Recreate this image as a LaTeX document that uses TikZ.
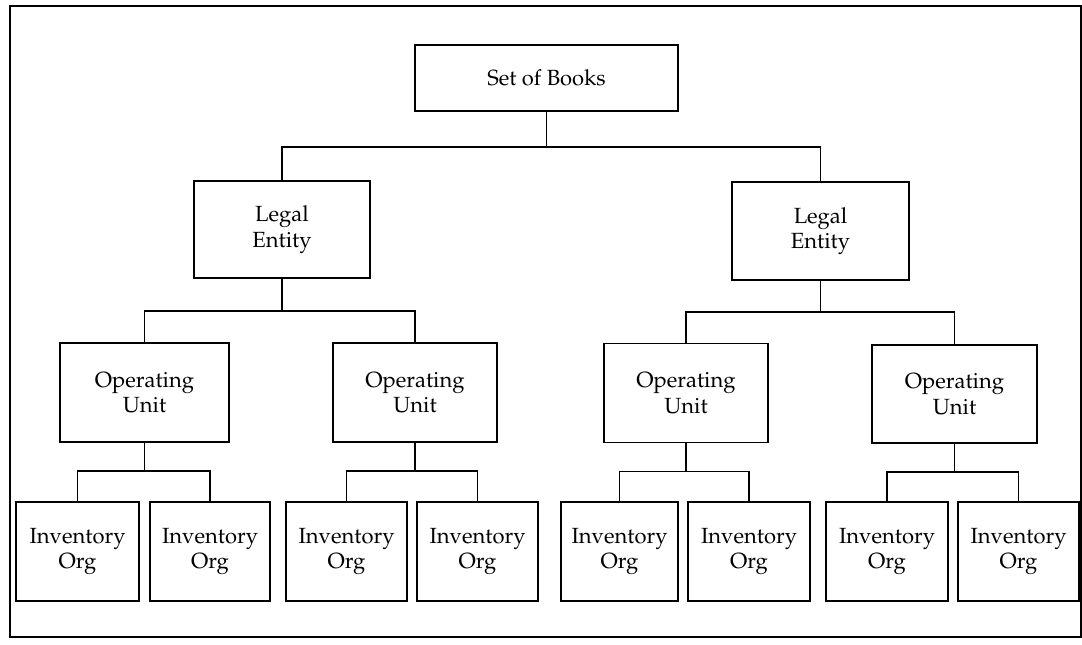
\documentclass[tikz,border=0pt]{standalone}
\usepackage[T1]{fontenc}
\usepackage{mathpazo}
\usepackage{tikz}
\usetikzlibrary{calc}
\def\pxu{0.02cm}
\tikzset{
  unit/.style={draw, line width=1.1pt, align=center, inner sep=0pt,
    font=\fontsize{12.5}{14.5}\selectfont},
  box/.style 2 args={unit, minimum width=#1*\pxu, minimum height=#2*\pxu},
  link/.style={line width=1.1pt},
  frame/.style={line width=1.4pt}
}

\begin{document}
\begin{tikzpicture}[x=0.02cm, y=-0.02cm]
\useasboundingbox (0,0) rectangle (1082,645);
\draw[frame] (10,6) rectangle (1081,637);

% top level
\node[box={263}{66}] (sob) at (546.5,78) {Set of Books};

% legal entities
\node[box={176}{97}] (le1) at (282,229.5) {Legal\\Entity};
\node[box={177}{98}] (le2) at (820.5,231) {Legal\\Entity};

% operating units
\node[box={169}{99}] (ou1) at (144.5,392.5) {Operating\\Unit};
\node[box={164}{99}] (ou2) at (415,392.5) {Operating\\Unit};
\node[box={164}{99}] (ou3) at (686,393) {Operating\\Unit};
\node[box={165}{98}] (ou4) at (954.5,394) {Operating\\Unit};

% inventory orgs
\foreach \i/\x/\w in {1/77.5/123, 2/210/120, 3/346.5/121, 4/477.5/121,
                      5/619.5/117, 6/749/122, 7/887/122, 8/1018.5/121}
  \node[box={\w}{99}] (io\i) at (\x,551.5) {Inventory\\Org};

% connectors
\draw[link] (sob.south) -- ++(0,35) -| (le1.north);
\draw[link] (sob.south) -- ++(0,35) -| (le2.north);
\draw[link] (le1.south) -- ++(0,32) -| (ou1.north);
\draw[link] (le1.south) -- ++(0,32) -| (ou2.north);
\draw[link] (le2.south) -- ++(0,31) -| (ou3.north);
\draw[link] (le2.south) -- ++(0,31) -| (ou4.north);
\foreach \p/\a/\b in {1/1/2, 2/3/4, 3/5/6, 4/7/8} {
  \draw[link] (ou\p.south) -- ++(0,28) -| (io\a.north);
  \draw[link] (ou\p.south) -- ++(0,28) -| (io\b.north);
}
\end{tikzpicture}
\end{document}
